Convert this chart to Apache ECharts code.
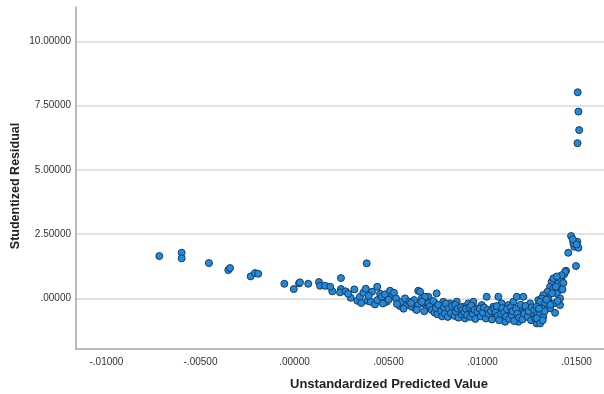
<!DOCTYPE html>
<html><head><meta charset="utf-8">
<script src="https://cdn.jsdelivr.net/npm/echarts@6/dist/echarts.min.js"></script>
<style>html,body{margin:0;padding:0;background:#fff}#c{width:604px;height:394px}</style>
</head><body><div id="c"></div>
<script>
const xTicks = [-0.01, -0.005, 0, 0.005, 0.01, 0.015];
const yTicks = [0, 2.5, 5, 7.5, 10];
const xTitle = 'Unstandardized Predicted Value';
const yTitle = 'Studentized Residual';

// [predicted value, studentized residual]
const leftPoints = [
[-0.00719,1.647],[-0.00600,1.776],[-0.00600,1.558],[-0.00455,1.375],[-0.00352,1.102],[-0.00343,1.180],
[-0.00233,0.857],[-0.00210,0.985],[-0.00193,0.958],[-0.00054,0.569],[-0.00004,0.362],[0.00024,0.584],
[0.00029,0.623],[0.00073,0.569],[0.00130,0.635],[0.00136,0.491],[0.00162,0.491],[0.00201,0.273],
[0.00247,0.790],[0.00247,0.362],[0.00242,0.234],[0.00272,0.273],[0.00299,0.023],[0.00318,0.350],
[0.00334,-0.093],[0.00348,0.062],[0.00366,0.218],[0.00379,0.374],[0.00384,1.363],[0.00387,-0.093],
[0.00405,-0.132],[0.00412,0.257],[0.00428,-0.234],[0.00440,0.452],[0.00440,-0.066],[0.00455,0.179],
[0.00464,0.062],[0.00481,0.156],[0.00490,-0.132],[0.00508,0.296],[0.00517,0.062],[0.00529,0.218],
[0.00540,0.000],[0.00561,-0.300],[0.00570,-0.132],[0.00588,0.000],[0.00597,-0.261],[0.00611,-0.132],
[0.00623,-0.327],[0.00636,-0.066],[0.00646,-0.428],[0.00658,0.296],[0.00658,-0.261],[0.00677,0.000],
[0.00685,-0.195],[0.00703,-0.389],[0.00712,0.062],
[0.00190,0.45],[0.00285,0.18],[0.00355,-0.18],[0.00395,0.10],[0.00470,-0.20],[0.00500,-0.05],
[0.00545,-0.22],[0.00580,-0.40],[0.00620,-0.18],[0.00650,-0.45],[0.00690,-0.50],[0.00700,-0.10]
];
const bandPoints = [
[0.00668,0.257],[0.00694,0.062],[0.00677,-0.132],[0.00712,-0.195],[0.00747,-0.195],[0.00756,0.195],
[0.00774,-0.327],[0.00791,-0.132],[0.00810,-0.456],[0.00827,-0.195],[0.00845,-0.456],[0.00863,-0.132],
[0.00880,-0.584],[0.00898,-0.327],[0.00907,-0.779],[0.00924,-0.195],[0.00943,-0.522],[0.00951,-0.132],
[0.00969,-0.389],[0.00978,-0.650],[0.00996,-0.261],[0.01013,-0.522],[0.01022,0.062],[0.01040,-0.650],
[0.01057,-0.327],[0.01066,-0.717],[0.01084,0.062],[0.01093,-0.456],[0.01102,-0.195],[0.01111,-0.779],
[0.01120,-0.911],[0.01137,-0.261],[0.01146,-0.584],[0.01164,-0.132],[0.01173,-0.717],[0.01182,0.062],
[0.01190,-0.911],[0.01199,-0.389],[0.01208,-0.584],[0.01217,0.062],[0.01235,-0.456],[0.01253,-0.195],
[0.01270,-0.650],[0.01288,-0.974],[0.01297,-0.066],
[0.00720,-0.30],[0.00730,-0.45],[0.00738,-0.10],[0.00745,-0.55],[0.00752,-0.38],[0.00760,-0.62],
[0.00765,-0.25],[0.00780,-0.50],[0.00785,-0.70],[0.00795,-0.35],[0.00800,-0.60],[0.00805,-0.20],
[0.00815,-0.72],[0.00820,-0.40],[0.00832,-0.58],[0.00838,-0.30],[0.00850,-0.68],[0.00855,-0.25],
[0.00858,-0.52],[0.00868,-0.40],[0.00872,-0.75],[0.00885,-0.35],[0.00890,-0.62],[0.00893,-0.45],
[0.00903,-0.55],[0.00912,-0.40],[0.00918,-0.65],[0.00930,-0.35],[0.00935,-0.72],[0.00940,-0.28],
[0.00948,-0.60],[0.00957,-0.45],[0.00962,-0.80],[0.00973,-0.52],[0.00985,-0.40],[0.00990,-0.70],
[0.01002,-0.55],[0.01008,-0.35],[0.01018,-0.78],[0.01028,-0.45],[0.01033,-0.60],[0.01045,-0.50],
[0.01050,-0.82],[0.01062,-0.40],[0.01070,-0.55],[0.01075,-0.30],[0.01080,-0.68],[0.01088,-0.85],
[0.01098,-0.60],[0.01105,-0.38],[0.01115,-0.55],[0.01125,-0.70],[0.01130,-0.42],[0.01142,-0.80],
[0.01150,-0.35],[0.01155,-0.65],[0.01160,-0.50],[0.01168,-0.88],[0.01178,-0.40],[0.01185,-0.60],
[0.01195,-0.75],[0.01203,-0.25],[0.01212,-0.82],[0.01222,-0.60],[0.01228,-0.30],[0.01240,-0.72],
[0.01245,-0.50],[0.01258,-0.85],[0.01262,-0.35],[0.01275,-0.45],[0.01280,-0.78],[0.01292,-0.60]
];
const upturnPoints = [
[0.01471,2.426],[0.01483,2.231],[0.01504,2.204],[0.01488,2.009],[0.01510,1.970],[0.01456,1.776],
[0.01497,1.258],[0.01444,1.075],[0.01434,0.935],[0.01412,0.779],[0.01386,0.713],[0.01368,0.646],
[0.01403,0.584],[0.01421,0.713],[0.01359,0.452],[0.01377,0.389],[0.01408,0.323],[0.01345,0.257],
[0.01395,0.195],[0.01323,0.129],[0.01315,0.000],[0.01350,0.000],[0.01412,0.000],[0.01306,-0.132],
[0.01332,-0.195],[0.01377,-0.195],[0.01412,-0.261],[0.01288,-0.327],[0.01315,-0.389],[0.01359,-0.389],
[0.01386,-0.561],[0.01306,-0.584],[0.01323,-0.717],[0.01288,-0.779],[0.01306,-0.974],
[0.01483,2.14],[0.01439,1.036],[0.01377,0.779],[0.01480,2.30],[0.01500,2.10],[0.01420,0.90],
[0.01430,0.60],[0.01390,0.45],[0.01370,0.20],[0.01340,-0.05],[0.01360,-0.25],[0.01330,-0.50],
[0.01300,-0.40],[0.01320,-0.85],[0.01400,-0.10],[0.01395,0.85],[0.01425,0.35]
];
const outlierPoints = [[0.01506,8.02],[0.01510,7.27],[0.01514,6.55],[0.01505,6.04]];

function fmt(v) {
  const s = Math.abs(v).toFixed(5).replace(/^0/, '');
  return (v < 0 ? '-' : '') + s;
}
const allPoints = leftPoints.concat(bandPoints, upturnPoints, outlierPoints);

const chart = echarts.init(document.getElementById('c'), null, {renderer: 'canvas'});
const labelStyle = {color: '#333', fontSize: 10, fontFamily: 'Liberation Sans, Arial, sans-serif'};
chart.setOption({
  animation: false,
  backgroundColor: '#fff',
  grid: {left: 76, right: 0, top: 7, bottom: 45},
  xAxis: {
    type: 'value', min: -0.01162, max: 0.01646,
    axisLine: {show: true, onZero: false, lineStyle: {color: '#a3a3a3', width: 1.5}},
    axisTick: {show: false, customValues: xTicks},
    axisLabel: Object.assign({customValues: xTicks, formatter: fmt, margin: 8}, labelStyle),
    splitLine: {show: false}
  },
  yAxis: {
    type: 'value', min: -1.97, max: 11.34,
    axisLine: {show: true, onZero: false, lineStyle: {color: '#a3a3a3', width: 1.5}},
    axisTick: {show: false, customValues: yTicks},
    axisLabel: Object.assign({customValues: yTicks, formatter: fmt, margin: 5}, labelStyle),
    splitLine: {show: true, lineStyle: {color: '#d9d9d9', width: 1.5}}
  },
  graphic: [
    {type: 'text', x: 389, y: 384, style: {text: xTitle, fill: '#222', font: 'bold 13px "Liberation Sans", Arial, sans-serif', textAlign: 'center', textVerticalAlign: 'middle'}},
    {type: 'text', x: 15.5, y: 186, rotation: Math.PI / 2, style: {text: yTitle, fill: '#222', font: 'bold 12.5px "Liberation Sans", Arial, sans-serif', textAlign: 'center', textVerticalAlign: 'middle'}}
  ],
  series: [{
    type: 'scatter',
    data: allPoints,
    symbolSize: 7,
    itemStyle: {color: '#2489d8', borderColor: '#173c60', borderWidth: 1, opacity: 1}
  }]
});
</script></body></html>
